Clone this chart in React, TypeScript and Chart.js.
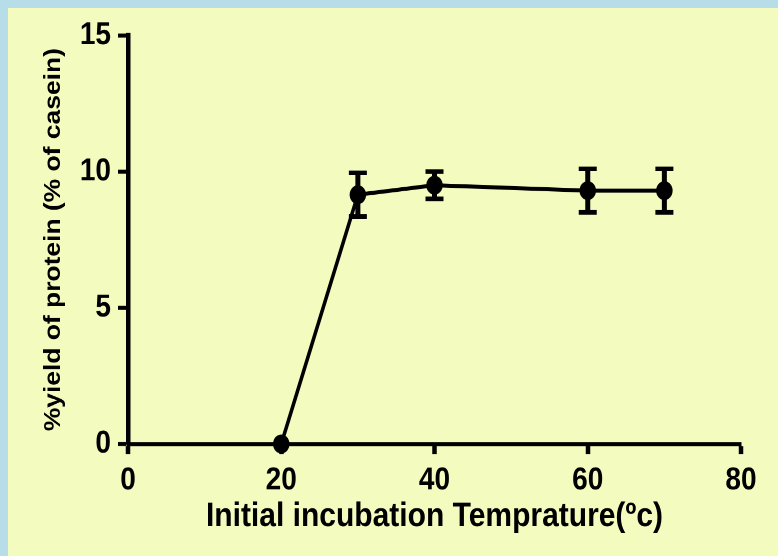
import React, { useEffect, useRef } from "react";
import { Chart, registerables } from "chart.js";

Chart.register(...registerables);

const temperatures = [20, 30, 40, 60, 70];
const yieldValues = [0, 9.15, 9.5, 9.3, 9.3];
const yieldErrors = [0, 0.8, 0.5, 0.8, 0.8];
const xTicks = [0, 20, 40, 60, 80];
const yTicks = [0, 5, 10, 15];

const FONT = "Arial, 'Liberation Sans', Helvetica, sans-serif";
const W = 770;
const H = 477;
const STRETCH = 548 / H;

const errorBarPlugin = {
  id: "errorBars",
  afterDatasetsDraw(chart: any) {
    const { ctx, scales } = chart;
    const xs = scales.x;
    const ys = scales.y;
    ctx.save();
    ctx.strokeStyle = "#000";
    ctx.lineCap = "butt";
    temperatures.forEach((t, i) => {
      const e = yieldErrors[i];
      if (!e) return;
      const x = xs.getPixelForValue(t);
      const yTop = ys.getPixelForValue(yieldValues[i] + e);
      const yBot = ys.getPixelForValue(yieldValues[i] - e);
      const half = 9;
      ctx.lineWidth = 5;
      ctx.beginPath();
      ctx.moveTo(x, yTop);
      ctx.lineTo(x, yBot);
      ctx.stroke();
      ctx.lineWidth = 4;
      ctx.beginPath();
      ctx.moveTo(x - half, yTop);
      ctx.lineTo(x + half, yTop);
      ctx.moveTo(x - half, yBot);
      ctx.lineTo(x + half, yBot);
      ctx.stroke();
    });
    ctx.restore();
  },
};

export default function App() {
  const ref = useRef<HTMLCanvasElement | null>(null);

  useEffect(() => {
    if (!ref.current) return;
    const chart = new Chart(ref.current, {
      type: "line",
      data: {
        datasets: [
          {
            data: temperatures.map((t, i) => ({ x: t, y: yieldValues[i] })),
            borderColor: "#000",
            backgroundColor: "#000",
            borderWidth: 3.5,
            pointRadius: 8.25,
            pointHoverRadius: 8.25,
            pointBackgroundColor: "#000",
            pointBorderColor: "#000",
            pointBorderWidth: 0,
            tension: 0,
            clip: false as any,
          },
        ],
      },
      options: {
        responsive: false,
        devicePixelRatio: 2,
        animation: false,
        events: [],
        layout: { padding: { top: 22.6, right: 37, bottom: 0, left: 0 } },
        plugins: {
          legend: { display: false },
          tooltip: { enabled: false },
        },
        scales: {
          x: {
            type: "linear",
            min: 0,
            max: 80,
            afterBuildTicks: (scale: any) => {
              scale.ticks = xTicks.map((v) => ({ value: v }));
            },
            afterFit: (scale: any) => {
              scale.height = 97.5;
            },
            grid: {
              drawOnChartArea: false,
              drawTicks: true,
              tickLength: 8.7,
              tickWidth: 4.5,
              tickColor: "#000",
            },
            border: { display: true, width: 3.5, color: "#000" },
            ticks: {
              color: "#000",
              padding: 6.5,
              maxRotation: 0,
              font: { family: FONT, size: 28, weight: "bold" },
            },
            title: {
              display: true,
              text: "Initial incubation Temprature(ºc)",
              color: "#000",
              font: { family: FONT, size: 30, weight: "bold" },
              padding: { top: 0, bottom: 16.5 },
            },
          },
          y: {
            type: "linear",
            min: 0,
            max: 15,
            afterBuildTicks: (scale: any) => {
              scale.ticks = yTicks.map((v) => ({ value: v }));
            },
            afterFit: (scale: any) => {
              scale.width = 120;
            },
            grid: {
              drawOnChartArea: false,
              drawTicks: true,
              tickLength: 10,
              tickWidth: 3.5,
              tickColor: "#000",
            },
            border: { display: true, width: 4.5, color: "#000" },
            ticks: {
              color: "#000",
              padding: 7,
              font: { family: FONT, size: 28, weight: "bold" },
            },
            title: {
              display: true,
              text: "%yield of protein (% of casein)",
              color: "#000",
              font: { family: FONT, size: 23, weight: "bold" },
              padding: { top: 32, bottom: 0 },
            },
          },
        },
      },
      plugins: [errorBarPlugin],
    });
    return () => chart.destroy();
  }, []);

  return (
    <div
      style={{
        position: "fixed",
        left: 0,
        top: 0,
        width: 778,
        height: 556,
        background: "rgb(183,222,232)",
        overflow: "hidden",
      }}
    >
      <div
        style={{
          position: "absolute",
          left: 8,
          top: 8,
          width: 770,
          height: 548,
          background: "rgb(244,251,190)",
          overflow: "hidden",
        }}
      >
        <div style={{ transform: `scaleY(${STRETCH})`, transformOrigin: "0 0", width: W, height: H }}>
          <canvas ref={ref} width={W} height={H} style={{ width: W, height: H, display: "block" }} />
        </div>
      </div>
    </div>
  );
}
